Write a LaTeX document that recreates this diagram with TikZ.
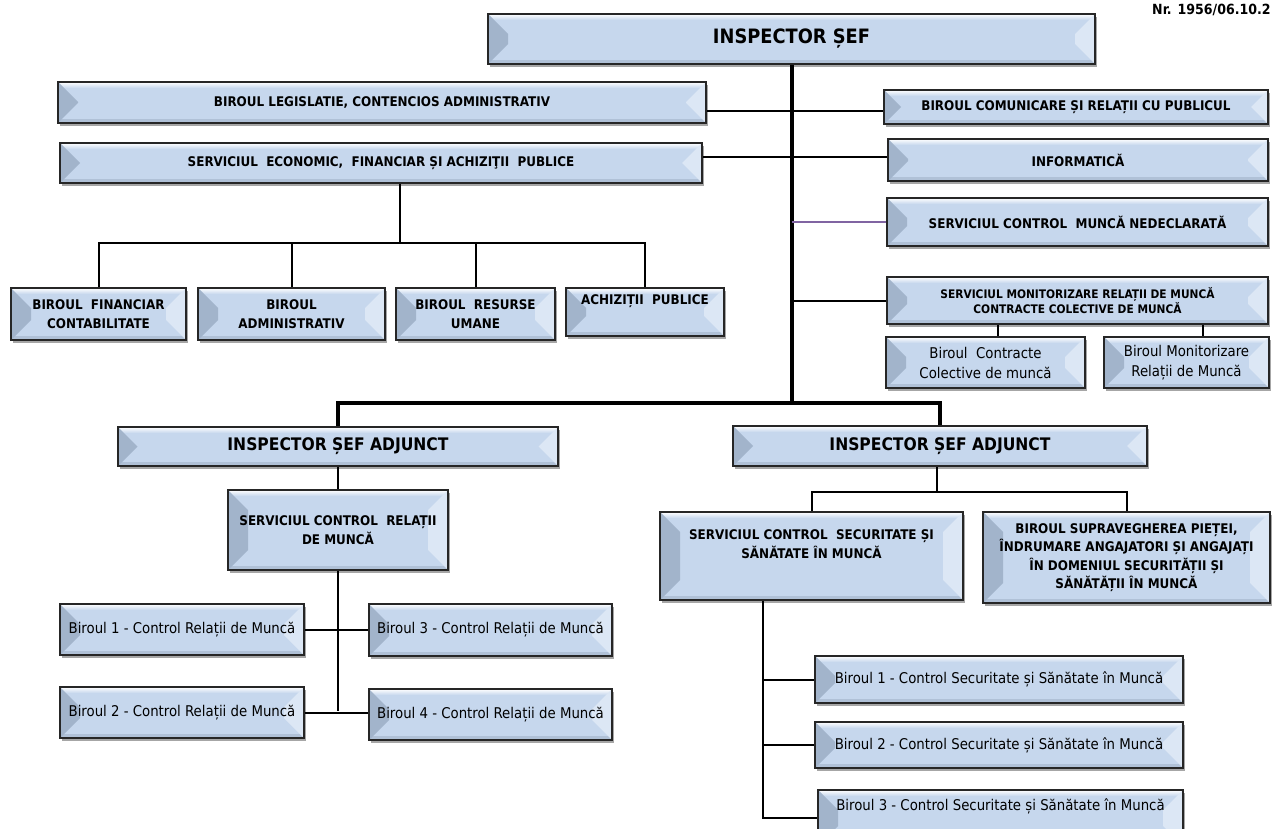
\documentclass[tikz,border=0pt]{standalone}
\usepackage{fontspec}
\setmainfont{DejaVu Sans Condensed}
\usetikzlibrary{calc,shadows,backgrounds}
\definecolor{facec}{HTML}{C6D7ED}
\definecolor{leftc}{HTML}{A2B4CB}
\definecolor{rightc}{HTML}{DCE7F5}
\definecolor{botc}{HTML}{B0C1D7}
\definecolor{bordc}{HTML}{262626}
\definecolor{purp}{HTML}{8064A2}
\tikzset{
  bx/.style={draw=bordc, line width=1.4pt, fill=facec, inner sep=1pt, align=center,
    drop shadow={shadow xshift=2pt, shadow yshift=-3pt, fill=black, opacity=0.35},
    path picture={
      \path let \p1=(path picture bounding box.north east),
                \p2=(path picture bounding box.south west),
                \n1={min(20pt,(\y1-\y2)/2)} in
        (\x2,\y1) coordinate (bNW) (\x1,\y1) coordinate (bNE)
        (\x2,\y2) coordinate (bSW) (\x1,\y2) coordinate (bSE)
        (\x2+\n1,\y1-\n1) coordinate (iNW) (\x1-\n1,\y1-\n1) coordinate (iNE)
        (\x2+\n1,\y2+\n1) coordinate (iSW) (\x1-\n1,\y2+\n1) coordinate (iSE)
        (\x2,\y1-6pt) coordinate (tL) (\x1,\y1-6pt) coordinate (tR)
        (\x2,\y2+4pt) coordinate (uL) (\x1,\y2+4pt) coordinate (uR);
      \fill[top color=white, bottom color=facec] (bNW) rectangle (tR);
      \fill[botc] (bSW) rectangle (uR);
      \fill[leftc] (bNW) -- (iNW) -- (iSW) -- (bSW) -- cycle;
      \fill[rightc] (bNE) -- (iNE) -- (iSE) -- (bSE) -- cycle;
    }},
  capsf/.style={font=\bfseries\fontsize{13.3}{18.5}\selectfont},
  regf/.style={font=\fontsize{14.8}{20}\selectfont},
  ln/.style={draw=black, line width=2pt},
  trunk/.style={draw=black, line width=3.6pt},
}
\newcommand\obox[7][]{\node[bx,capsf,#1,minimum width={(#5-#3)*1pt},minimum height={(#6-#4)*1pt}] (#2) at ({(#3+#5)/2},{(#4+#6)/2}) {#7};}
\begin{document}
\begin{tikzpicture}[x=1pt,y=-1pt]
\useasboundingbox (0,0) rectangle (1273,829);
\node[font=\bfseries\fontsize{14}{16}\selectfont, anchor=west, inner sep=0] (nr) at (1152,10) {Nr. 1956/06.10.2};
% top
\obox[font=\bfseries\fontsize{19.8}{22}\selectfont]{top}{488}{14}{1095}{64}{INSPECTOR ȘEF}
\obox{leg}{58}{82}{706}{123}{BIROUL LEGISLATIE, CONTENCIOS ADMINISTRATIV}
\obox{eco}{60}{143}{702}{183}{SERVICIUL\ \ ECONOMIC,\ \ FINANCIAR ȘI ACHIZIŢII\ \ PUBLICE}
\obox{com}{884}{90}{1268}{124}{BIROUL COMUNICARE ȘI RELAȚII CU PUBLICUL}
\obox{inf}{888}{139}{1268}{181}{INFORMATICĂ}
\obox{ned}{887}{198}{1268}{246}{SERVICIUL CONTROL\ \ MUNCĂ NEDECLARATĂ}
\obox[font=\bfseries\fontsize{11.8}{15}\selectfont]{mon}{887}{277}{1268}{324}{SERVICIUL MONITORIZARE RELAȚII DE MUNCĂ\\CONTRACTE COLECTIVE DE MUNCĂ}
\obox[regf]{bcc}{886}{337}{1085}{388}{Biroul\ \ Contracte\\Colective de muncă}
\obox[regf]{bmr}{1104}{337}{1269}{388}{Biroul Monitorizare\\Relații de Muncă}
% economic children
\obox{fin}{11}{288}{186}{340}{BIROUL\ \ FINANCIAR\\CONTABILITATE}
\obox{adm}{198}{288}{385}{340}{BIROUL\\ADMINISTRATIV}
\obox{res}{396}{288}{555}{340}{BIROUL\ \ RESURSE\\UMANE}
\obox{ach}{566}{288}{724}{336}{ACHIZIȚII\ \ PUBLICE\\\strut}
% adjuncts
\obox[font=\bfseries\fontsize{17.3}{19}\selectfont]{isa1}{118}{427}{558}{466}{INSPECTOR ȘEF ADJUNCT}
\obox[font=\bfseries\fontsize{17.3}{19}\selectfont]{isa2}{733}{426}{1147}{466}{INSPECTOR ȘEF ADJUNCT}
% left branch
\obox{scrm}{228}{490}{448}{570}{SERVICIUL CONTROL\ \ RELAȚII\\DE MUNCĂ}
\obox[regf]{b1}{60}{604}{304}{655}{Biroul 1 - Control Relații de Muncă}
\obox[regf]{b3}{369}{604}{612}{656}{Biroul 3 - Control Relații de Muncă}
\obox[regf]{b2}{60}{687}{304}{738}{Biroul 2 - Control Relații de Muncă}
\obox[regf]{b4}{369}{689}{612}{740}{Biroul 4 - Control Relații de Muncă}
% right branch
\obox{scss}{660}{512}{963}{600}{SERVICIUL CONTROL\ \ SECURITATE ȘI\\SĂNĂTATE ÎN MUNCĂ\\\strut}
\obox{bsp}{983}{512}{1270}{603}{BIROUL SUPRAVEGHEREA PIEȚEI,\\ÎNDRUMARE ANGAJATORI ȘI ANGAJAȚI\\ÎN DOMENIUL SECURITĂȚII ȘI\\SĂNĂTĂȚII ÎN MUNCĂ}
\obox[regf]{css1}{815}{656}{1183}{703}{Biroul 1 - Control Securitate și Sănătate în Muncă}
\obox[regf]{css2}{815}{722}{1183}{768}{Biroul 2 - Control Securitate și Sănătate în Muncă}
\obox[regf]{css3}{818}{790}{1183}{846}{Biroul 3 - Control Securitate și Sănătate în Muncă\\\strut}
% junction coordinates
\coordinate (tj) at (792,403);
\coordinate (ej) at (400,243);
\coordinate (lj) at (338,711);
\coordinate (rj) at (937,492);
\coordinate (rx) at (763,600);
\coordinate (ly) at (0,111);
\coordinate (ey) at (0,157);
\coordinate (mx1) at (998,0);
\coordinate (mx2) at (1203,0);
\begin{pgfonlayer}{background}
  \fill[white] (0,0) rectangle (1273,829);
  \draw[trunk] (top.south -| tj) -- (tj);
  \draw[trunk] (isa1.north) |- (tj) -| (isa2.north);
  \draw[ln] (leg.east |- ly) -- (com.west |- ly);
  \draw[ln] (eco.east |- ey) -- (inf.west |- ey);
  \draw[draw=purp, line width=1.6pt] (ned.west) -- (ned.west -| tj);
  \draw[ln] (mon.west) -- (mon.west -| tj);
  \draw[ln] (mon.south -| mx1) -- (bcc.north -| mx1);
  \draw[ln] (mon.south -| mx2) -- (bmr.north -| mx2);
  \draw[ln] (eco.south -| ej) -- (ej);
  \draw[ln] (fin.north) |- (ej) -| (ach.north);
  \draw[ln] (adm.north) -- (adm.north |- ej);
  \draw[ln] (res.north) -- (res.north |- ej);
  \draw[ln] (isa1.south) -- (scrm.north);
  \draw[ln] (scrm.south) -- (lj);
  \draw[ln] (b1.east) -- (b1.east -| b3.west);
  \draw[ln] (b2.east) -- (b2.east -| b4.west);
  \draw[ln] (isa2.south -| rj) -- (rj);
  \draw[ln] (scss.north) |- (bsp.north |- rj) -- (bsp.north);
  \draw[ln] (scss.south -| rx) -- (rx |- css3.west) -- (css3.west);
  \draw[ln] (css1.west) -- (css1.west -| rx);
  \draw[ln] (css2.west) -- (css2.west -| rx);
\end{pgfonlayer}
\end{tikzpicture}
\end{document}
